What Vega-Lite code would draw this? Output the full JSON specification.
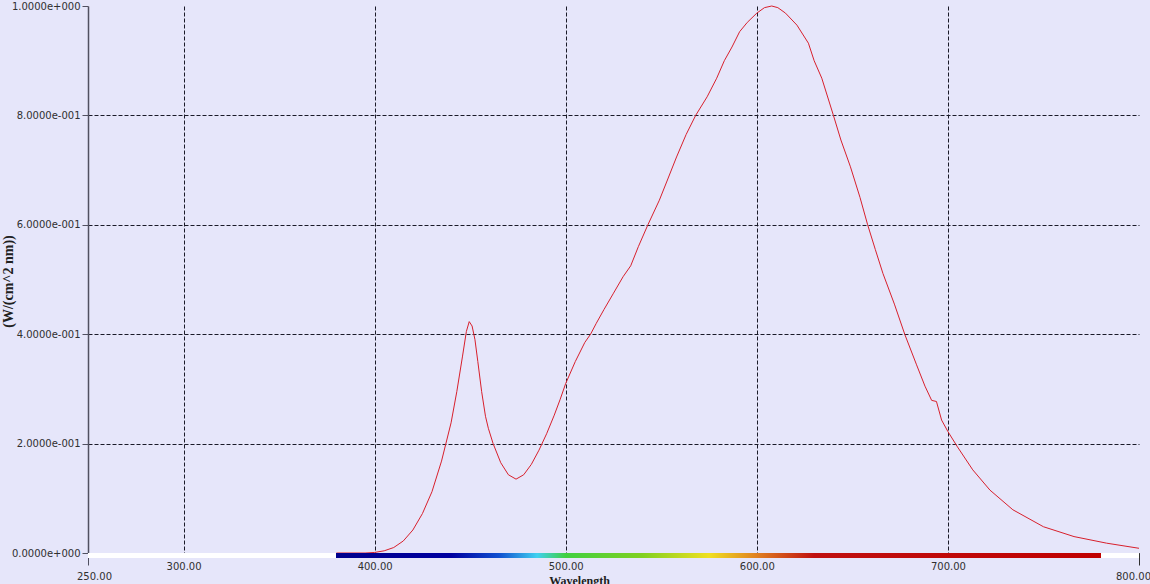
{
  "$schema": "https://vega.github.io/schema/vega-lite/v6.json",
  "width": 1051,
  "height": 547,
  "autosize": {"type": "none"},
  "padding": {"left": 88, "top": 6, "right": 11, "bottom": 31},
  "background": "#e6e6fa",
  "config": {
    "view": {"stroke": null, "fill": "#e6e6fa"},
    "axis": {
      "labelFont": "DejaVu Sans",
      "labelFontSize": 10,
      "labelColor": "#303030",
      "titleFont": "Liberation Serif",
      "titleFontWeight": "bold",
      "titleColor": "#202020",
      "gridDash": [4, 2],
      "gridWidth": 1
    }
  },
  "data": {
    "values": [
      {"nm": 380, "v": 0}, {"nm": 395, "v": 0}, {"nm": 400, "v": 0.001},
      {"nm": 405, "v": 0.004}, {"nm": 410, "v": 0.01}, {"nm": 415, "v": 0.022},
      {"nm": 420, "v": 0.042}, {"nm": 425, "v": 0.072}, {"nm": 430, "v": 0.112},
      {"nm": 435, "v": 0.168}, {"nm": 440, "v": 0.238}, {"nm": 443, "v": 0.295},
      {"nm": 446, "v": 0.36}, {"nm": 448, "v": 0.405}, {"nm": 449.5, "v": 0.423},
      {"nm": 451, "v": 0.415}, {"nm": 452.5, "v": 0.39}, {"nm": 454, "v": 0.35},
      {"nm": 456, "v": 0.295}, {"nm": 458, "v": 0.25}, {"nm": 459.5, "v": 0.228},
      {"nm": 462, "v": 0.2}, {"nm": 466, "v": 0.165}, {"nm": 470, "v": 0.143},
      {"nm": 474, "v": 0.135}, {"nm": 478, "v": 0.143}, {"nm": 482, "v": 0.162},
      {"nm": 486, "v": 0.188}, {"nm": 490, "v": 0.218}, {"nm": 494, "v": 0.252},
      {"nm": 497, "v": 0.28}, {"nm": 500, "v": 0.31}, {"nm": 505, "v": 0.35},
      {"nm": 510, "v": 0.385}, {"nm": 513, "v": 0.4}, {"nm": 516, "v": 0.42},
      {"nm": 520, "v": 0.445}, {"nm": 525, "v": 0.475}, {"nm": 530, "v": 0.505},
      {"nm": 534, "v": 0.525}, {"nm": 538, "v": 0.56}, {"nm": 543, "v": 0.6},
      {"nm": 549, "v": 0.645}, {"nm": 553, "v": 0.68}, {"nm": 558, "v": 0.724},
      {"nm": 563, "v": 0.765}, {"nm": 568, "v": 0.8}, {"nm": 574, "v": 0.834},
      {"nm": 579, "v": 0.868}, {"nm": 583, "v": 0.9}, {"nm": 587, "v": 0.925},
      {"nm": 591, "v": 0.953}, {"nm": 595, "v": 0.97}, {"nm": 600, "v": 0.987},
      {"nm": 604, "v": 0.997}, {"nm": 607.8, "v": 1.0}, {"nm": 611, "v": 0.997},
      {"nm": 615, "v": 0.987}, {"nm": 621, "v": 0.965}, {"nm": 627, "v": 0.932},
      {"nm": 630, "v": 0.9}, {"nm": 634, "v": 0.868}, {"nm": 640, "v": 0.801},
      {"nm": 644, "v": 0.755}, {"nm": 649, "v": 0.706}, {"nm": 654, "v": 0.65},
      {"nm": 658, "v": 0.6}, {"nm": 662, "v": 0.555}, {"nm": 666, "v": 0.511},
      {"nm": 672, "v": 0.455}, {"nm": 677.5, "v": 0.399}, {"nm": 683.6, "v": 0.344},
      {"nm": 688, "v": 0.305}, {"nm": 691.5, "v": 0.279}, {"nm": 694, "v": 0.277},
      {"nm": 696.7, "v": 0.243}, {"nm": 700, "v": 0.222}, {"nm": 705, "v": 0.194},
      {"nm": 713, "v": 0.152}, {"nm": 722, "v": 0.115}, {"nm": 734, "v": 0.079},
      {"nm": 750, "v": 0.048}, {"nm": 766, "v": 0.03}, {"nm": 783, "v": 0.018},
      {"nm": 800, "v": 0.0086}
    ]
  },
  "layer": [
    {
      "mark": {"type": "line", "color": "#d8202c", "strokeWidth": 1, "interpolate": "linear"},
      "encoding": {
        "x": {
          "field": "nm", "type": "quantitative",
          "scale": {"domain": [250, 800], "nice": false, "zero": false},
          "axis": {
            "title": "Wavelength",
            "titleFontSize": 12,
            "titleX": 491,
            "titleY": 22,
            "titleBaseline": "top",
            "titleAlign": "center",
            "values": [250, 300, 400, 500, 600, 700, 800],
            "format": ".2f",
            "labelFlush": false,
            "domainColor": "#000000",
            "domainWidth": 1,
            "tickSize": 12,
            "tickColor": {"condition": [{"test": "datum.value == 250", "value": "#505060"}, {"test": "datum.value == 800", "value": "#303030"}], "value": "transparent"},
            "labelPadding": {"condition": {"test": "datum.value == 250 || datum.value == 800", "value": 6}, "value": -4},
            "labelOffset": {"condition": [{"test": "datum.value == 250", "value": 6}, {"test": "datum.value == 800", "value": -6}], "value": 0},
            "labelBaseline": "top",
            "gridColor": {"condition": {"test": "datum.value == 250 || datum.value == 800", "value": "transparent"}, "value": "#1a1a28"}
          }
        },
        "y": {
          "field": "v", "type": "quantitative",
          "scale": {"domain": [0, 1], "nice": false},
          "axis": {
            "title": "(W/(cm^2 nm))",
            "titleFontSize": 14,
            "titleX": -80,
            "titleY": 275,
            "titleAlign": "center",
            "titleBaseline": "middle",
            "values": [0, 0.2, 0.4, 0.6, 0.8, 1],
            "labelExpr": "replace(replace(format(datum.value, '.4e'), 'e-', 'e-00'), 'e+', 'e+00')",
            "domainColor": "#505060",
            "domainWidth": 1.5,
            "tickColor": "#505060",
            "tickSize": 6,
            "labelPadding": 2,
            "gridColor": {"condition": {"test": "datum.value == 0 || datum.value == 1", "value": "transparent"}, "value": "#1a1a28"}
          }
        }
      }
    },
    {
      "mark": {"type": "rect", "fill": "#ffffff"},
      "encoding": {
        "x": {"datum": 250, "type": "quantitative"},
        "x2": {"datum": 800},
        "y": {"datum": -0.0005, "type": "quantitative"},
        "y2": {"datum": -0.0085}
      }
    },
    {
      "mark": {
        "type": "rect",
        "fill": {
          "gradient": "linear", "x1": 0, "y1": 0, "x2": 1, "y2": 0,
          "stops": [
            {"offset": 0, "color": "#00008c"},
            {"offset": 0.15, "color": "#0000a0"},
            {"offset": 0.2125, "color": "#1050d0"},
            {"offset": 0.2625, "color": "#40d0f0"},
            {"offset": 0.3, "color": "#40d040"},
            {"offset": 0.4, "color": "#80d020"},
            {"offset": 0.4875, "color": "#f0e020"},
            {"offset": 0.55, "color": "#e08020"},
            {"offset": 0.625, "color": "#c01010"},
            {"offset": 1, "color": "#c00000"}
          ]
        }
      },
      "encoding": {
        "x": {"datum": 380, "type": "quantitative"},
        "x2": {"datum": 780},
        "y": {"datum": -0.0005, "type": "quantitative"},
        "y2": {"datum": -0.0085}
      }
    }
  ]
}
